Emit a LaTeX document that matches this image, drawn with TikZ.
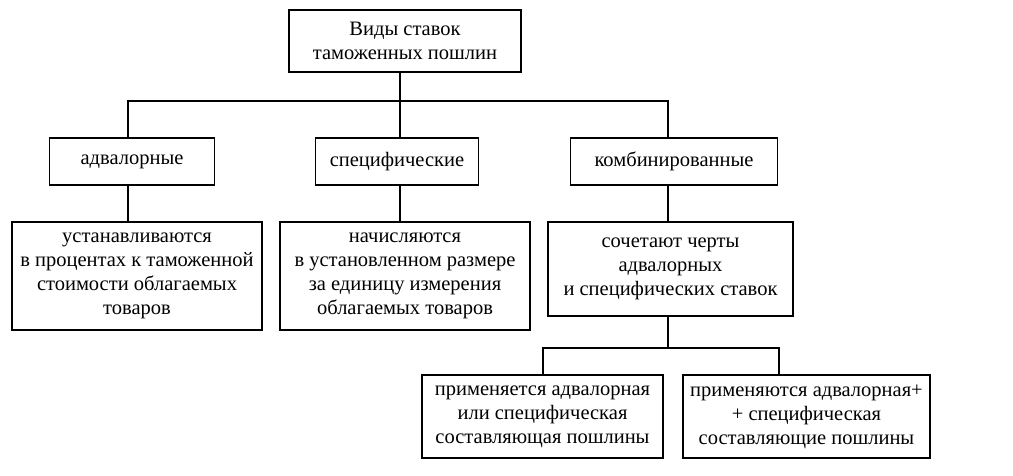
\documentclass[tikz,border=0pt]{standalone}
\usepackage{fontspec}
\setmainfont{Liberation Serif}
\tikzset{
  box/.style={draw, line width=1.4pt, align=center, inner sep=0pt,
    font=\fontsize{20.5}{24}\selectfont},
  link/.style={draw, line width=1.1pt}
}
\begin{document}
\begin{tikzpicture}[x=1pt,y=-1pt]
\useasboundingbox (0,0) rectangle (1013,475);
% level 0
\node[box, minimum width=232pt, minimum height=62pt] (top) at (405,41) {Виды ставок\\таможенных пошлин};
% level 1
\node[box, minimum width=165pt, minimum height=47pt] (adv) at (132,161.5) {адвалорные};
\node[box, minimum width=163pt, minimum height=47pt] (spec) at (397,161.5) {специфические};
\node[box, minimum width=207pt, minimum height=47pt] (komb) at (674,161.5) {комбинированные};
% level 2
\node[box, minimum width=250pt, minimum height=108pt] (ust) at (137,276) {устанавливаются\\в процентах к таможенной\\стоимости облагаемых\\товаров};
\node[box, minimum width=250pt, minimum height=108pt] (nach) at (405,276) {начисляются\\в установленном размере\\за единицу измерения\\облагаемых товаров};
\node[box, minimum width=245pt, minimum height=94pt] (soch) at (670.5,269) {сочетают черты\\адвалорных\\и специфических ставок};
% level 3
\node[box, minimum width=241pt, minimum height=83pt] (pr1) at (542.5,416.5) {применяется адвалорная\\или специфическая\\составляющая пошлины};
\node[box, minimum width=247pt, minimum height=83pt] (pr2) at (806.5,416.5) {применяются адвалорная+\\+ специфическая\\составляющие пошлины};
% connectors
\coordinate (bus1) at (400,101);
\coordinate (bl1) at (128,101);
\coordinate (br1) at (668,101);
\draw[link] (top.south -| bus1) -- (spec.north -| bus1);
\draw[link] (adv.north -| bl1) -- (bl1) -- (br1) -- (komb.north -| br1);
\draw[link] (adv.south -| bl1) -- (ust.north -| bl1);
\draw[link] (spec.south -| bus1) -- (nach.north -| bus1);
\draw[link] (komb.south -| br1) -- (soch.north -| br1);
\coordinate (bus2) at (668,348);
\coordinate (bl2) at (543,348);
\coordinate (br2) at (779,348);
\draw[link] (soch.south -| bus2) -- (bus2);
\draw[link] (pr1.north -| bl2) -- (bl2) -- (br2) -- (pr2.north -| br2);
\end{tikzpicture}
\end{document}
